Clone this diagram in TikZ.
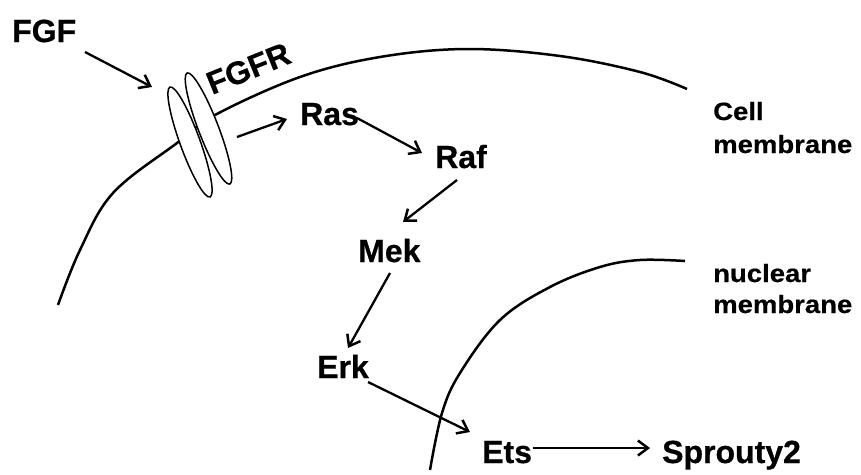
\documentclass[tikz,border=0pt]{standalone}
\usepackage{fontspec}
\setmainfont{Liberation Sans}[BoldFeatures={FakeBold=0.6}]
\newfontfamily\widefont{Liberation Sans}[FakeStretch=1.1, BoldFeatures={FakeBold=0.5, FakeStretch=1.1}]
\usetikzlibrary{arrows.meta}
\tikzset{
  lbl/.style={anchor=base west, inner sep=0pt, font=\fontsize{32}{36}\selectfont\bfseries},
  mlbl/.style={anchor=base west, inner sep=0pt, font=\widefont\fontsize{25}{30}\selectfont\bfseries},
  arr/.style={line width=2.3pt, -{Straight Barb[length=10pt,width=15pt,line width=2.5pt]}},
  memb/.style={line width=2.5pt},
  rec/.style={line width=1.5pt}
}
\begin{document}
\begin{tikzpicture}[x=1pt,y=-1pt]
\useasboundingbox (0,0) rectangle (861,474);
% cell membrane
\draw[memb] plot[smooth, tension=0.6] coordinates {(58,305) (80,250) (113,193) (177,143) (215,115) (300,77) (380,57) (467,49) (560,56) (640,72) (687,89)};
% nuclear membrane
\draw[memb] plot[smooth, tension=0.6] coordinates {(430,470) (442,413) (460,373) (500,320) (550,287) (600,267) (640,260) (685,261)};
% FGFR receptor
\fill[white, shift={(208.5,128.5)}, rotate=-69] (0,0) ellipse (59.5 and 10);
\fill[white, shift={(190,142)}, rotate=-70] (0,0) ellipse (58.5 and 10);
\draw[rec, shift={(208.5,128.5)}, rotate=-69] (0,0) ellipse (59.5 and 10);
\draw[rec, shift={(190,142)}, rotate=-70] (0,0) ellipse (58.5 and 10);
% labels
\node[lbl] (fgf) at (12,42) {FGF};
\node[lbl, rotate=22] (fgfr) at (212,95) {FGFR};
\node[lbl] (ras) at (300,125) {Ras};
\node[lbl] (raf) at (435,168) {Raf};
\node[lbl] (mek) at (358,262) {Mek};
\node[lbl] (erk) at (317,378) {Erk};
\node[lbl] (ets) at (482,463) {Ets};
\node[lbl] (spry) at (662,463) {Sprouty2};
\node[mlbl] (cell1) at (713,120) {Cell};
\node[mlbl] (cell2) at (713,153) {membrane};
\node[mlbl] (nuc1) at (713,282) {nuclear};
\node[mlbl] (nuc2) at (713,313) {membrane};
% connector end points
\coordinate (fgfOut) at (85,52);
\coordinate (fgfrIn) at (152,87);
\coordinate (fgfrOut) at (237,137);
\coordinate (rasIn) at (287,119);
\coordinate (rasOut) at (357,118);
\coordinate (rafIn) at (422,153);
\coordinate (rafOut) at (457,180);
\coordinate (mekIn) at (403,222);
\coordinate (mekOut) at (390,273);
\coordinate (erkIn) at (348,348);
\coordinate (erkOut) at (368,382);
\coordinate (etsIn) at (470,432);
\coordinate (etsOut) at (533,448);
\coordinate (spryIn) at (650,448);
% arrows
\draw[arr] (fgfOut) -- (fgfrIn);
\draw[arr] (fgfrOut) -- (rasIn);
\draw[arr] (rasOut) -- (rafIn);
\draw[arr] (rafOut) -- (mekIn);
\draw[arr] (mekOut) -- (erkIn);
\draw[arr] (erkOut) -- (etsIn);
\draw[arr] (etsOut) -- (spryIn);
\end{tikzpicture}
\end{document}
